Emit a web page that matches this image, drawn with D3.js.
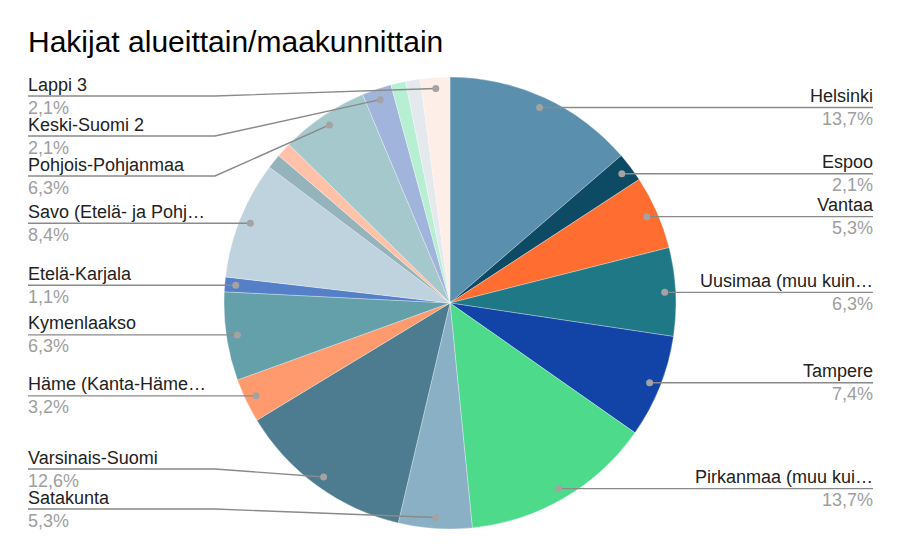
<!DOCTYPE html>
<html>
<head>
<meta charset="utf-8">
<script src="https://cdn.jsdelivr.net/npm/d3@7"></script>
<style>
  html, body { margin: 0; padding: 0; background: #fff; }
  svg { display: block; font-family: "Liberation Sans", Arial, sans-serif; }
</style>
</head>
<body>
<svg id="chart" width="901" height="558"></svg>
<script>
// ---- data (clockwise from 12 o'clock) ----
const categories = [
  "Helsinki", "Espoo", "Vantaa", "Uusimaa (muu kuin pääkaupunkiseutu)", "Tampere",
  "Pirkanmaa (muu kuin Tampere)", "Satakunta", "Varsinais-Suomi", "Häme (Kanta-Häme ja Päijät-Häme)",
  "Kymenlaakso", "Etelä-Karjala", "Savo (Etelä- ja Pohjois-Savo)", "Keski-Pohjanmaa",
  "Pohjanmaa", "Pohjois-Pohjanmaa", "Keski-Suomi 2", "Pohjois-Karjala", "Kainuu", "Lappi 3"
];
const counts = [13, 2, 5, 6, 7, 13, 5, 12, 3, 6, 1, 8, 1, 1, 6, 2, 1, 1, 2];
const colors = [
  "#5a8fad", "#0d4a63", "#ff6d31", "#1f7886", "#1243a7",
  "#4ddb8b", "#8ab0c6", "#4d7b8f", "#ff9a6e", "#63a0aa",
  "#5580c8", "#bed3de", "#95b3bb", "#ffc1a8", "#a5c8cd",
  "#a1b4dc", "#b6efd2", "#e4e9ee", "#fdeee8"
];
const showLabel = [true, true, true, true, true, true, true, true, true, true, true, true,
  false, false, true, true, false, false, true];
const title = "Hakijat alueittain/maakunnittain";

// ---- layout ----
const cx = 450, cy = 303, R = 226, dotR = 215;
const svg = d3.select("#chart");
const total = d3.sum(counts);
const fmt = v => (v / total * 100).toFixed(1).replace(".", ",") + "%";

svg.append("text")
  .attr("x", 28).attr("y", 52)
  .attr("font-size", 30).attr("fill", "#000")
  .text(title);

const data = categories.map((c, i) => ({ name: c, value: counts[i], color: colors[i], show: showLabel[i] }));
const pie = d3.pie().value(d => d.value).sort(null);
const arcs = pie(data);
const arc = d3.arc().innerRadius(0).outerRadius(R);
const dotArc = d3.arc().innerRadius(dotR).outerRadius(dotR);

const g = svg.append("g").attr("transform", `translate(${cx},${cy})`);
g.selectAll("path").data(arcs).join("path")
  .attr("d", arc)
  .attr("fill", d => d.data.color)
  .attr("stroke", "#fff").attr("stroke-width", 0.5).attr("stroke-opacity", 0.6);

// label positions
const labeled = arcs.filter(a => a.data.show).map(a => {
  const [x, y] = dotArc.centroid(a);
  const mid = (a.startAngle + a.endAngle) / 2;
  return { a, dx: cx + x, dy: cy + y, side: mid < Math.PI ? "right" : "left" };
});

function spread(list, minY, maxY, gap) {
  list.sort((p, q) => p.dy - q.dy);
  list.forEach((p, i) => {
    p.ly = Math.max(p.dy, minY, i ? list[i - 1].ly + gap : -Infinity);
  });
  for (let i = list.length - 1; i >= 0; i--) {
    const p = list[i];
    p.ly = Math.min(p.ly, maxY, i < list.length - 1 ? list[i + 1].ly - gap : Infinity);
  }
}
const left = labeled.filter(d => d.side === "left");
const right = labeled.filter(d => d.side === "right");
spread(left, 96, 509, 40);
spread(right, 96, 509, 40);

const maxW = 180;
function truncate(sel, text) {
  sel.text(text);
  if (sel.node().getComputedTextLength() <= maxW) return;
  let t = text;
  while (t.length > 1) {
    t = t.slice(0, -1);
    sel.text(t.trimEnd() + "…");
    if (sel.node().getComputedTextLength() <= maxW) return;
  }
}

const lg = svg.append("g");
labeled.forEach(d => {
  const isL = d.side === "left";
  const tx = isL ? 28 : 873;
  const elbowX = isL ? 215 : 873;
  let pts;
  if (isL) {
    pts = Math.abs(d.ly - d.dy) < 0.5 ? [[tx, d.ly], [d.dx, d.dy]] : [[tx, d.ly], [elbowX, d.ly], [d.dx, d.dy]];
  } else {
    pts = [[tx, d.ly], [d.dx, d.dy]];
  }
  lg.append("path")
    .attr("d", d3.line()(pts))
    .attr("fill", "none").attr("stroke", "#8a8a8a").attr("stroke-width", 1.4);
  lg.append("circle")
    .attr("cx", d.dx).attr("cy", d.dy).attr("r", 3.5)
    .attr("fill", "#a3a3a3");
  const name = lg.append("text")
    .attr("x", tx).attr("y", d.ly - 5.5)
    .attr("text-anchor", isL ? "start" : "end")
    .attr("font-size", 18).attr("fill", "#222");
  truncate(name, d.a.data.name);
  lg.append("text")
    .attr("x", tx).attr("y", d.ly + 17.5)
    .attr("text-anchor", isL ? "start" : "end")
    .attr("font-size", 18).attr("fill", "#9e9e9e")
    .text(fmt(d.a.data.value));
});
</script>
</body>
</html>
